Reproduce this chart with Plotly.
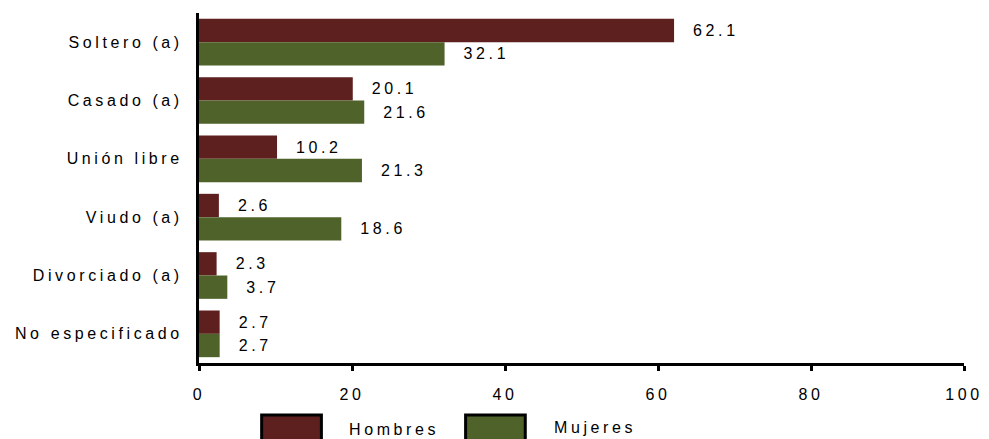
import plotly.graph_objects as go

categories = ["Soltero (a)", "Casado (a)", "Unión libre", "Viudo (a)", "Divorciado (a)", "No especificado"]
hombres = [62.1, 20.1, 10.2, 2.6, 2.3, 2.7]
mujeres = [32.1, 21.6, 21.3, 18.6, 3.7, 2.7]
series_names = ["Hombres", "Mujeres"]
x_ticks = [0, 20, 40, 60, 80, 100]

C_H = "#5E1F1F"
C_M = "#4F6229"
FONT = "Liberation Sans, Arial, sans-serif"
FS = 16

fig = go.Figure()
for name, vals, col in [(series_names[0], hombres, C_H), (series_names[1], mujeres, C_M)]:
    fig.add_trace(go.Bar(
        y=categories, x=vals, orientation="h", name=name,
        marker=dict(color=col, line=dict(width=0)),
        text=["  " + f"{v:.1f}" for v in vals],
        textposition="outside", cliponaxis=False,
        textfont=dict(family=FONT, size=FS, color="black"),
        showlegend=False, hoverinfo="skip",
    ))

fig.update_layout(
    width=989, height=439,
    margin=dict(l=199, r=21, t=13, b=76),
    paper_bgcolor="white", plot_bgcolor="white",
    barmode="group", bargap=0.2, bargroupgap=0,
    font=dict(family=FONT, size=FS, color="black"),
    xaxis=dict(range=[0, 100], tickvals=x_ticks, showgrid=False, zeroline=False,
               showline=True, linecolor="black", linewidth=3,
               ticks="outside", ticklen=5, tickwidth=3, tickcolor="black",
               ticklabelstandoff=10,
               tickfont=dict(family=FONT, size=FS, color="black")),
    yaxis=dict(autorange="reversed", showgrid=False, zeroline=False,
               showline=True, linecolor="black", linewidth=3, ticks="",
               ticklabelstandoff=10,
               tickfont=dict(family=FONT, size=FS, color="black")),
)

# custom legend boxes
legend_items = [
    (series_names[0], C_H, 0.0819, 0.160, 0.1938, -0.1886),
    (series_names[1], C_M, 0.3485, 0.4265, 0.4616, -0.183),
]
for name, col, x0, x1, tx, ty in legend_items:
    fig.add_shape(type="rect", xref="paper", yref="paper", x0=x0, x1=x1, y0=-0.1486, y1=-0.23,
                  fillcolor=col, line=dict(color="black", width=3))
    fig.add_annotation(xref="paper", yref="paper", x=tx, y=ty, text=name, showarrow=False,
                       xanchor="left", yanchor="middle",
                       font=dict(family=FONT, size=FS, color="black"))

post = """
document.body.style.margin = '0';
var gd = document.getElementById('{plot_id}');
var LS = '3.6px';
gd.querySelectorAll('.ytick text, .xtick text').forEach(function(t){ t.style.letterSpacing = LS; });
gd.querySelectorAll('text.bartext, text.annotation-text').forEach(function(t){
  var w0 = t.getBBox().width;
  t.style.letterSpacing = LS;
  var w1 = t.getBBox().width;
  var x = parseFloat(t.getAttribute('x') || '0');
  t.setAttribute('x', x + (w1 - w0) / 2);
});
"""

fig.write_html("out.html", post_script=post, config={"displayModeBar": False})
